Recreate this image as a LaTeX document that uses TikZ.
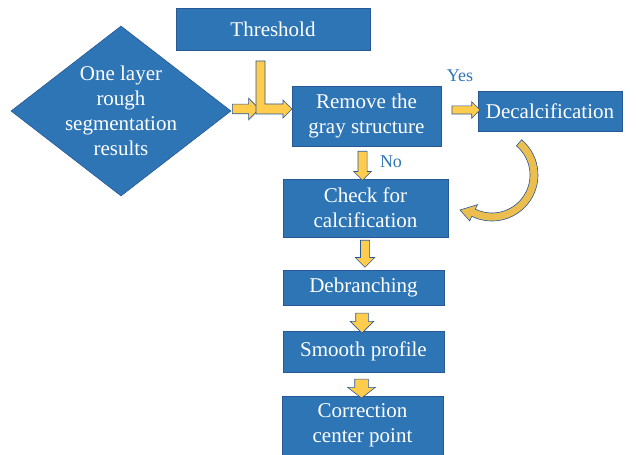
\documentclass[tikz,border=0pt]{standalone}
\usepackage{fontspec}
\setmainfont{Liberation Serif}
\usetikzlibrary{shapes,arrows,calc,positioning}
\definecolor{boxblue}{RGB}{46,117,182}
\definecolor{boxedge}{RGB}{40,88,150}
\definecolor{arrowfill}{RGB}{255,204,77}
\definecolor{curvefill}{RGB}{236,190,80}
\tikzset{
    block/.style={
           rectangle,
           fill=boxblue,
           draw=boxedge, line width=0.6pt,
           inner sep=0pt,
           text=white,
           align=center,
           font=\rmfamily\fontsize{21}{25}\selectfont
           },
    decision/.style={
           diamond,
           fill=boxblue,
           draw=boxedge, line width=0.6pt,
           inner sep=0pt,
           minimum width=220pt,
           minimum height=170pt
           },
    inside/.style={
           text=white,
           align=center,
           font=\rmfamily\fontsize{21}{25}\selectfont
           },
    fat/.style={
           single arrow,
           fill=arrowfill,
           draw=boxedge, line width=0.6pt,
           single arrow tip angle=90,
           single arrow head indent=0pt
           },
    branch/.style={
           text=boxblue,
           font=\rmfamily\fontsize{18}{20}\selectfont
           }
}

\begin{document}
\begin{tikzpicture}[x=1pt,y=1pt]
   \useasboundingbox (0,0) rectangle (638,455);

   % boxes
   \node[block, minimum width=194pt, minimum height=42pt] (thr) at (273,426)   {Threshold};
   \node[decision] (seg) at (121,344) {};
   \node[inside] (segtxt) at (seg.center) {One layer\\rough\\segmentation\\results};
   \node[block, minimum width=149pt, minimum height=60pt] (rem) at (366.5,339) {Remove the\\gray structure};
   \node[block, minimum width=144pt, minimum height=40pt] (dec) at (550,344)   {Decalcification};
   \node[block, minimum width=165pt, minimum height=58pt] (chk) at (365.5,247) {Check for\\calcification};
   \node[block, minimum width=161pt, minimum height=35pt] (deb) at (363.5,167.5) {Debranching};
   \node[block, minimum width=161pt, minimum height=41pt] (smo) at (363.5,103.5) {Smooth profile};
   \node[block, minimum width=161pt, minimum height=59pt] (cor) at (362.5,29.5)  {Correction\\center point};

   % block arrows
   \node[fat, minimum height=27pt, inner sep=4.5pt, single arrow head extend=6pt] (a1) at (243.5,346) {};
   \node[fat, minimum height=28pt, inner sep=3.75pt, single arrow head extend=4.25pt] (a2) at (464,345) {};
   \node[fat, rotate=-90, minimum height=29pt, inner sep=4.25pt, single arrow head extend=4.25pt] (d1) at (362.5,291.5) {};
   \node[fat, rotate=-90, minimum height=27pt, inner sep=4.25pt, single arrow head extend=5.25pt] (d2) at (365,203.5) {};
   \node[fat, rotate=-90, minimum height=20pt, inner sep=6pt, single arrow head extend=5.5pt] (d3) at (362,135) {};
   \node[fat, rotate=-90, minimum height=18pt, inner sep=6.5pt, single arrow head extend=7pt, single arrow tip angle=105] (d4) at (361.5,69) {};

   % threshold joins in
   \filldraw[fill=arrowfill, draw=boxedge, line width=0.6pt]
     (256,394) -- (265,394) -- (265,351) -- (283,351) -- (283,355) -- (292,346)
     -- (283,337) -- (283,341) -- (256,341) -- cycle;

   % back to the check
   \coordinate (cc) at (492,280);
   \filldraw[fill=curvefill, draw=boxedge, line width=0.6pt]
     ($(cc)+(50:46)$) arc[start angle=50, end angle=-116, radius=46]
     -- ($(cc)+(-116:51)$) -- (460,245) -- ($(cc)+(-116:33)$) -- ($(cc)+(-116:38)$)
     arc[start angle=-116, end angle=50, radius=38] -- cycle;

   \node[branch] (yes) at (460,379) {Yes};
   \node[branch] (no)  at (391,293) {No};
\end{tikzpicture}
\end{document}
